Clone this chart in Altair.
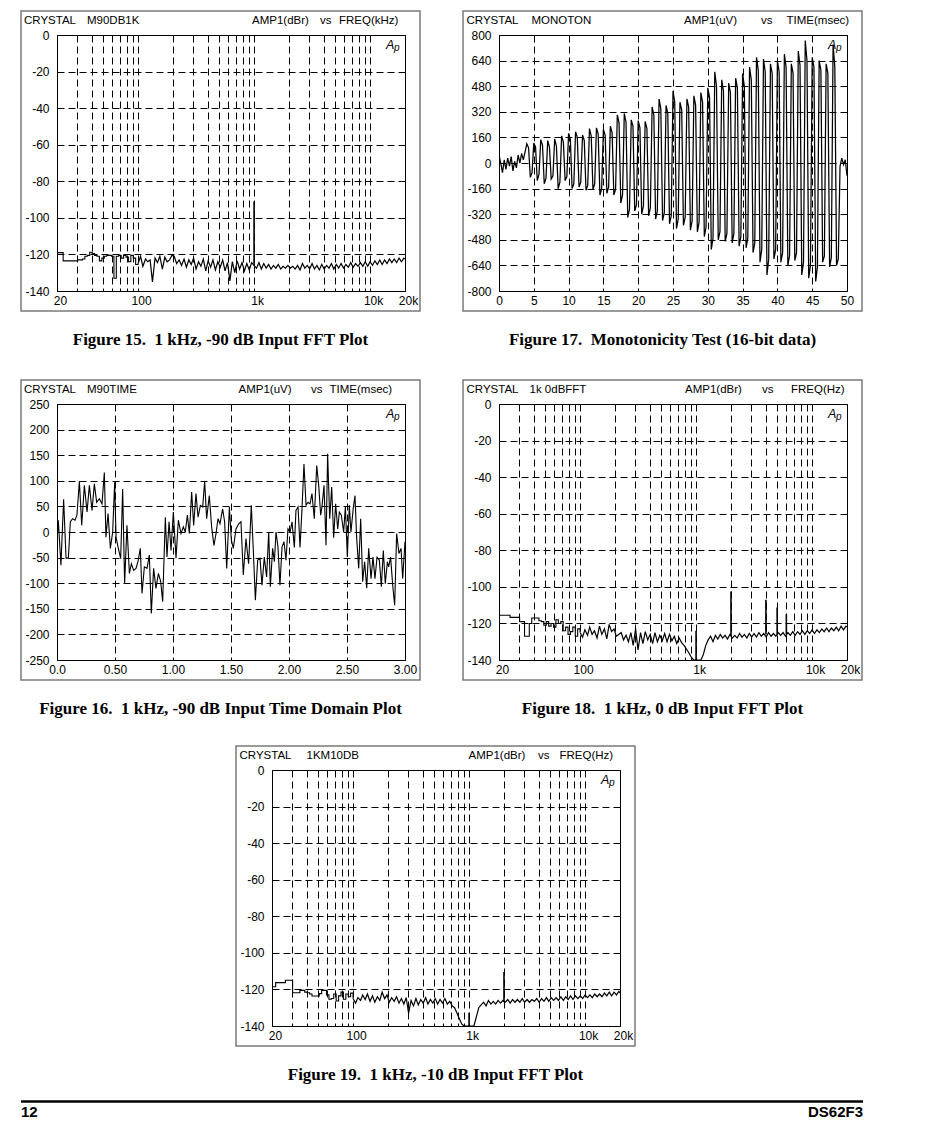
import altair as alt
import pandas as pd

W, H = 348, 256
FONT = "Liberation Sans"

# ---------------- shared FFT frequency grid (Hz) ----------------
FREQ = [20, 21.5, 22.6, 23.7, 24.9, 26.1, 27.4, 28.7, 30.1, 31.6, 33.2, 34.8, 36.5, 38.3, 40.2, 42.2, 44.2,
        46.4, 48.7, 51.1, 53.6, 56.2, 59.0, 61.9, 64.9, 68.1, 71.5, 75.0, 78.7, 82.5, 86.6, 90.9, 95.3,
        100, 105, 110, 116, 121, 127, 133, 140, 147, 154, 162, 170, 178, 187, 196, 205, 215, 226, 237, 249,
        261, 274, 287, 301, 316, 332, 348, 365, 383, 402, 422, 442, 464, 487, 511, 536, 562, 590, 619, 649,
        681, 715, 750, 787, 825, 866, 909, 953,
        1000, 1049, 1101, 1155, 1212, 1271, 1334, 1399, 1468, 1540, 1616, 1695, 1778, 1866, 1957, 2054, 2154,
        2260, 2371, 2488, 2610, 2738, 2873, 3014, 3162, 3318, 3481, 3652, 3831, 4020, 4217, 4424, 4642, 4870,
        5109, 5360, 5623, 5900, 6190, 6494, 6813, 7148, 7499, 7868, 8254, 8660, 9085, 9532,
        10000, 10490, 11010, 11550, 12120, 12710, 13340, 13990, 14680, 15400, 16160, 16950, 17780, 18660,
        19570, 20000]

# Figure 15: 1 kHz, -90 dB input (dBr)
DB15 = [-119, -119, -123.5, -123.5, -123.5, -123.5, -123.5, -123.5, -123, -123, -122.5, -121, -120.5, -118.8,
        -119.5, -120.5, -121, -123.5, -122, -121, -120.5, -120.5, -121, -133, -121, -120.5, -122, -120.5,
        -121.5, -124, -120.5, -122, -125.5,
        -125, -121, -126.5, -122.5, -124, -123, -135, -122, -124.5, -121, -128, -121.5, -124, -123, -120.5,
        -121, -125, -123, -126, -122.5, -127, -123, -125.5, -122, -128, -124, -126.5, -122.5, -129, -123.5,
        -127, -123, -128.5, -124, -127, -123, -129, -124.5, -134.5, -124, -130, -123.5, -128, -124.5, -129,
        -125, -128.5, -124.5,
        -126, -127.5, -124.5, -128, -125, -127.5, -125.5, -128, -126, -127.5, -125.5, -128, -126.5, -127.5,
        -126, -127.5, -126.5, -128, -126, -128.5, -125, -127.5, -126, -128, -125, -128, -126, -128.5, -125.5,
        -128, -126, -127.5, -125, -128, -125.5, -127.5, -125, -127.5, -125.5, -127, -124.5, -127, -125,
        -126.5, -124.5, -126.5, -124, -126.5,
        -124, -126, -123.5, -125.5, -123, -125.5, -123, -125, -122.5, -124.5, -122.5, -124.5, -122, -124,
        -122, -122.5]
SPK15_F = [1000]
SPK15_TOP = [-91]
SPK15_BASE = [-126]

# Figure 18: 1 kHz, 0 dB input (dBr)
DB18 = [-115.5, -115.5, -115.5, -115.5, -116.7, -116.7, -116.7, -116.7, -119, -119, -127, -127, -120, -117,
        -117, -117, -118.5, -119, -121, -119, -121.5, -120, -122, -118, -120, -119, -124, -122, -126, -124.5,
        -122, -127, -123,
        -125, -127.5, -123.5, -126.5, -122, -126, -124, -128, -121.5, -126, -123, -128.5, -120.5, -124.5,
        -123, -127, -126, -125, -129, -126.5, -130, -125, -132, -123, -134.5, -125, -131, -124.5, -129, -126,
        -131, -125, -130, -126.5, -129.5, -125.5, -130, -126, -129.5, -127, -131, -128, -130.5, -132, -134,
        -136, -138.5, -140,
        -140, -140, -140, -137, -132, -129, -127, -130, -126.5, -128.5, -126, -128, -126.5, -128.5, -126,
        -128, -126.5, -128, -125.5, -127.5, -126, -128, -125.5, -127.5, -125.5, -127.5, -125, -127, -125.5,
        -127.5, -125, -127, -125.5, -127, -125, -126.5, -125, -127, -125, -126.5, -124.5, -126.5, -124.5,
        -126, -124, -126, -124, -125.5,
        -123.5, -125.5, -123.5, -125, -123, -124.5, -122.5, -124.5, -122.5, -124, -122, -124, -121.5, -123.5,
        -121.5, -122]
SPK18_F = [1000, 2000, 4000, 5000, 6000]
SPK18_TOP = [-124, -102.5, -107, -111.3, -115]
SPK18_BASE = [-140, -127, -126, -126, -126]

# Figure 19: 1 kHz, -10 dB input (dBr)
DB19 = [-118.5, -116.3, -116.3, -116.3, -116.3, -115, -115, -115, -121.8, -121.8, -121.8, -120.5, -120.5,
        -121.5, -121.8, -122.5, -123.6, -123.6, -123.6, -122.3, -120.5, -120.5, -123, -125.4, -125, -122.5,
        -126.3, -123.5, -121.5, -125.4, -122.5, -124, -122,
        -125, -127.5, -124.5, -126, -123, -125.5, -122.5, -126.5, -123.5, -127, -124, -126, -121.5, -125,
        -123, -127, -124.5, -126.5, -124, -127.5, -125, -128, -124.5, -133, -126, -129, -125, -128.5, -125.5,
        -127.5, -124.5, -128, -125.5, -127.5, -125, -128, -125.5, -127.5, -125, -128, -126.5, -129, -130,
        -133, -136, -139, -140, -140,
        -140, -140, -140, -135, -130, -128.5, -127, -129, -126, -128, -126.5, -128, -126, -127.5, -126, -127,
        -125.5, -127.5, -125.5, -127, -125.5, -127, -125, -127, -125.5, -127, -125.5, -126.5, -125, -127,
        -125, -126.5, -124.5, -126.5, -124.5, -126, -124.5, -126, -124, -126, -124, -125.5, -123.5, -125.5,
        -123.5, -125, -123.5, -125,
        -123, -124.5, -123, -124.5, -122.5, -124, -122.5, -124, -122, -123.5, -121.5, -123.5, -121.5, -123,
        -121, -122]
SPK19_F = [1000, 2000]
SPK19_TOP = [-132.7, -110.5]
SPK19_BASE = [-140, -127]

FFT_X_GRID = [20, 30, 40, 50, 60, 70, 80, 90, 100, 200, 300, 400, 500, 600, 700, 800, 900,
              1000, 2000, 3000, 4000, 5000, 6000, 7000, 8000, 9000, 10000, 20000]
FFT_X_LABELS = [20, 100, 1000, 10000, 20000]
FFT_Y_TICKS = [-140, -120, -100, -80, -60, -40, -20, 0]

# Figure 17: monotonicity test, time (ms) / amplitude (uV)
T17 = [0, 0.25, 0.5, 0.75, 1, 1.25, 1.5, 1.75, 2, 2.25, 2.5, 2.75, 3, 3.25, 3.5, 3.75, 4, 4.25, 4.5, 4.75,
       5, 5.25, 5.5, 5.75, 6, 6.25, 6.5, 6.75, 7, 7.25, 7.5, 7.75, 8, 8.25, 8.5, 8.75, 9, 9.25, 9.5, 9.75,
       10, 10.25, 10.5, 10.75, 11, 11.25, 11.5, 11.75, 12, 12.25, 12.5, 12.75, 13, 13.25, 13.5, 13.75,
       14, 14.25, 14.5, 14.75, 15, 15.25, 15.5, 15.75, 16, 16.25, 16.5, 16.75, 17, 17.25, 17.5, 17.75,
       18, 18.25, 18.5, 18.75, 19, 19.25, 19.5, 19.75, 20, 20.25, 20.5, 20.75, 21, 21.25, 21.5, 21.75,
       22, 22.25, 22.5, 22.75, 23, 23.25, 23.5, 23.75, 24, 24.25, 24.5, 24.75, 25, 25.25, 25.5, 25.75,
       26, 26.25, 26.5, 26.75, 27, 27.25, 27.5, 27.75, 28, 28.25, 28.5, 28.75, 29, 29.25, 29.5, 29.75,
       30, 30.25, 30.5, 30.75, 31, 31.25, 31.5, 31.75, 32, 32.25, 32.5, 32.75, 33, 33.25, 33.5, 33.75,
       34, 34.25, 34.5, 34.75, 35, 35.25, 35.5, 35.75, 36, 36.25, 36.5, 36.75, 37, 37.25, 37.5, 37.75,
       38, 38.25, 38.5, 38.75, 39, 39.25, 39.5, 39.75, 40, 40.25, 40.5, 40.75, 41, 41.25, 41.5, 41.75,
       42, 42.25, 42.5, 42.75, 43, 43.25, 43.5, 43.75, 44, 44.25, 44.5, 44.75, 45, 45.25, 45.5, 45.75,
       46, 46.25, 46.5, 46.75, 47, 47.25, 47.5, 47.75, 48, 48.25, 48.5, 48.75, 49, 49.25, 49.5, 49.75, 50]
V17 = [50, 0, -60, 20, -40, 30, -20, 40, -50, 10, -30, 50, 0, 60, 20, 70,
       120, 95, -90, -60, 125, 100, -110, -70, 145, 110, -130, -95, 140, 100, -100, -80,
       150, 105, -160, -120, 170, 130, -110, -85, 185, 150, -160, -130, 195, 160, -150, -120,
       175, 140, -170, -140, 215, 170, -165, -130, 220, 180, -200, -160, 210, 175, -190, -150,
       230, 190, -200, -165, 300, 250, -250, -200, 310, 255, -340, -290, 270, 230, -300, -260,
       265, 220, -320, -270, 260, 215, -330, -280, 350, 300, -350, -300, 400, 340, -360, -310,
       360, 310, -380, -330, 450, 380, -410, -350, 380, 330, -390, -340, 400, 350, -420, -360,
       420, 360, -430, -370, 440, 380, -460, -400, 470, 410, -540, -470, 570, 480, -480, -430,
       520, 450, -490, -440, 500, 440, -500, -440, 530, 470, -520, -460, 560, 480, -530, -470,
       600, 520, -560, -500, 660, 580, -620, -540, 650, 570, -700, -600, 620, 560, -600, -540,
       640, 570, -620, -560, 680, 600, -640, -580, 620, 560, -610, -560, 700, 610, -700, -620,
       765, 640, -720, -640, 660, 600, -740, -650, 640, 580, -620, -580, 620, 560, -650, -590,
       740, 600, -640, -600, -20, 30, -10, 20, -80]
T17_TICKS = [0, 5, 10, 15, 20, 25, 30, 35, 40, 45, 50]
Y17_TICKS = [-800, -640, -480, -320, -160, 0, 160, 320, 480, 640, 800]

# Figure 16: time domain, time (ms) / amplitude (uV)
T16 = [0.000, 0.011, 0.034, 0.057, 0.078, 0.098, 0.115, 0.135, 0.155, 0.172,
       0.193, 0.213, 0.236, 0.259, 0.279, 0.302, 0.322, 0.342, 0.365, 0.388,
       0.408, 0.422, 0.440, 0.460, 0.480, 0.497, 0.509, 0.526, 0.549, 0.566,
       0.583, 0.603, 0.624, 0.641, 0.661, 0.681, 0.698, 0.718, 0.733, 0.753,
       0.776, 0.796, 0.813, 0.833, 0.853, 0.874, 0.894, 0.911, 0.934, 0.948,
       0.966, 0.983, 1.003, 1.026, 1.046, 1.069, 1.089, 1.106, 1.124, 1.141,
       1.161, 1.178, 1.198, 1.216, 1.236, 1.256, 1.273, 1.290, 1.313, 1.333,
       1.353, 1.371, 1.388, 1.405, 1.428, 1.445, 1.463, 1.486, 1.503, 1.520,
       1.543, 1.566, 1.586, 1.606, 1.629, 1.652, 1.675, 1.693, 1.710, 1.730,
       1.750, 1.767, 1.787, 1.807, 1.825, 1.839, 1.859, 1.874, 1.888, 1.905,
       1.922, 1.940, 1.957, 1.974, 1.991, 2.009, 2.026, 2.046, 2.060, 2.078,
       2.095, 2.112, 2.129, 2.147, 2.164, 2.181, 2.198, 2.218, 2.239, 2.256,
       2.273, 2.284, 2.302, 2.319, 2.333, 2.351, 2.368, 2.385, 2.402, 2.420,
       2.434, 2.451, 2.471, 2.486, 2.503, 2.520, 2.534, 2.555, 2.569, 2.583,
       2.601, 2.618, 2.635, 2.652, 2.670, 2.687, 2.707, 2.724, 2.741, 2.759,
       2.779, 2.796, 2.813, 2.830, 2.848, 2.859, 2.876, 2.894, 2.911, 2.928,
       2.948, 2.966, 2.980, 3.000]
V16 = [-19, 23, -65, 64, -51, -51, 20, 26, 23, 33,
       99, 13, 91, 39, 91, 42, 94, 58, 65, 55,
       116, -10, 36, -32, 0, 97, -10, -29, -52, 84,
       -101, 13, -81, -62, -75, -71, -58, -32, -120, -68,
       -71, -45, -159, -71, -110, -81, -97, -136, 29, -49,
       20, -36, 39, -51, 23, -3, 10, 0, 33, -3,
       78, 13, 75, 29, 52, 49, 99, 26, 71, 10,
       -26, -3, 26, 16, 45, 20, -71, 49, -16, -32,
       6, 16, 20, -84, -13, -62, 52, -39, -133, -55,
       -51, -104, -49, -88, 0, -107, -32, -58, 0, -29,
       -104, -29, -19, -55, 6, 0, 20, -30, 42, 49,
       -30, 45, 133, 52, 58, 55, 75, 26, 130, 91,
       33, 49, 91, -26, 153, 26, 88, -11, 55, 6,
       39, 33, 0, 49, -49, 52, 0, 49, 71, -11,
       -71, 26, -97, -58, -110, -32, -91, -49, -91, -49,
       -55, -107, -36, -101, -58, -68, -49, -104, -143, -3,
       -42, -32, -91, -19]
T16_TICKS = [0, 0.5, 1.0, 1.5, 2.0, 2.5, 3.0]
Y16_TICKS = [-250, -200, -150, -100, -50, 0, 50, 100, 150, 200, 250]

# ---------------- helpers ----------------
ONE = alt.InlineData(values=[{"k": 0}])
NOVIEW = alt.ViewBackground(stroke="transparent")
NB = "\u00a0"
Y_LABEL_EXPR = "'' + datum.value"


def vtext(x, y, s, size=11.5, align="left", font=FONT, weight="normal", style="normal"):
    return alt.Chart(ONE).mark_text(
        align=align, baseline="middle", font=font, fontSize=size,
        fontWeight=weight, fontStyle=style, color="black"
    ).encode(x=alt.value(x), y=alt.value(y), text=alt.value(s))


def frame(header, caption, cell_bottom=86):
    cell = alt.Chart(ONE).mark_rect(opacity=0).encode(
        x=alt.value(-37), x2=alt.value(W + 16), y=alt.value(-25), y2=alt.value(H + cell_bottom))
    box = alt.Chart(ONE).mark_rect(filled=False, color="#7a7a7a", strokeWidth=1.5).encode(
        x=alt.value(-36), x2=alt.value(W + 15), y=alt.value(-24), y2=alt.value(H + 20))
    top = [vtext(x, -14, s) for x, s in header]
    logo = [vtext(W - 19, 10, "A", size=12.5, style="italic"),
            vtext(W - 11, 12.5, "p", size=10, style="italic")]
    cap = vtext(W / 2 - 10.5, H + 49, caption, size=17, align="center",
                font="Liberation Serif", weight="bold")
    return [cell, box], top + logo + [cap]


lab_list = ",".join(str(v) for v in FFT_X_LABELS)
FFT_LABEL_EXPR = ("indexof([" + lab_list + "], datum.value) < 0 ? '' : "
                  "(datum.value >= 1000 ? (datum.value / 1000) + 'k' : '' + datum.value)")


def fft_panel(db, spk_f, spk_top, spk_base, header, caption, cell_bottom=86):
    df = pd.DataFrame({"f": FREQ, "db": db})
    sdf = pd.DataFrame({"f": spk_f, "top": spk_top, "base": spk_base})
    xs = alt.Scale(type="log", domain=[20, 20000], nice=False)
    ys = alt.Scale(domain=[-140, 0], nice=False)
    xa = alt.Axis(values=FFT_X_GRID, labelExpr=FFT_LABEL_EXPR, labelOverlap=False,
                  labelFlush=False, labelOffset=3, title=None, grid=True)
    ya = alt.Axis(values=FFT_Y_TICKS, title=None, grid=True, labelOverlap=False,
                  labelExpr=Y_LABEL_EXPR)
    X = alt.X("f:Q", scale=xs, axis=xa)
    low = alt.Chart(df).transform_filter(alt.datum.f <= 100).mark_line(
        color="black", strokeWidth=1.1, interpolate="step-after", clip=True
    ).encode(x=X, y=alt.Y("db:Q", scale=ys, axis=ya))
    high = alt.Chart(df).transform_filter(alt.datum.f >= 100).mark_line(
        color="black", strokeWidth=1.2, clip=True
    ).encode(x=X, y=alt.Y("db:Q", scale=ys, axis=ya))
    spikes = alt.Chart(sdf).mark_rule(color="black", strokeWidth=1.6, clip=True).encode(
        x=X, y=alt.Y("top:Q", scale=ys, axis=ya), y2="base:Q")
    back, front = frame(header, caption, cell_bottom)
    return alt.layer(*back, low, high, spikes, *front).properties(width=W, height=H)


def time_panel(t, v, xt, yt, xdom, ydom, xexpr, header, caption, cell_bottom=86, sw=1.1):
    df = pd.DataFrame({"t": t, "v": v})
    if xexpr:
        xa = alt.Axis(values=xt, title=None, grid=True, labelFlush=False, labelOverlap=False,
                      labelExpr=xexpr)
    else:
        xa = alt.Axis(values=xt, title=None, grid=True, labelFlush=False, labelOverlap=False)
    ya = alt.Axis(values=yt, title=None, grid=True, labelOverlap=False, labelExpr=Y_LABEL_EXPR)
    line = alt.Chart(df).mark_line(color="black", strokeWidth=sw, clip=True).encode(
        x=alt.X("t:Q", scale=alt.Scale(domain=xdom, nice=False), axis=xa),
        y=alt.Y("v:Q", scale=alt.Scale(domain=ydom, nice=False), axis=ya))
    back, front = frame(header, caption, cell_bottom)
    return alt.layer(*back, line, *front).properties(width=W, height=H)


# ---------------- panels ----------------
p15 = fft_panel(DB15, SPK15_F, SPK15_TOP, SPK15_BASE,
                [(-33, "CRYSTAL"), (30, "M90DB1K"), (195, "AMP1(dBr)"), (263, "vs"), (282, "FREQ(kHz)")],
                "Figure 15." + NB + " 1 kHz, -90 dB Input FFT Plot")

p17 = time_panel(T17, V17, T17_TICKS, Y17_TICKS, [0, 50], [-800, 800], None,
                 [(-32.5, "CRYSTAL"), (32.5, "MONOTON"), (185, "AMP1(uV)"), (262, "vs"),
                  (287.5, "TIME(msec)")],
                 "Figure 17." + NB + " Monotonicity Test (16-bit data)", sw=1.25)

p16 = time_panel(T16, V16, T16_TICKS, Y16_TICKS, [0, 3], [-250, 250],
                 "datum.value == 0 ? '0.0' : format(datum.value, '.2f')",
                 [(-33, "CRYSTAL"), (30, "M90TIME"), (181.5, "AMP1(uV)"), (254, "vs"),
                  (272.5, "TIME(msec)")],
                 "Figure 16." + NB + " 1 kHz, -90 dB Input Time Domain Plot", cell_bottom=83)

p18 = fft_panel(DB18, SPK18_F, SPK18_TOP, SPK18_BASE,
                [(-32.5, "CRYSTAL"), (30.5, "1k 0dBFFT"), (186, "AMP1(dBr)"), (263, "vs"), (292, "FREQ(Hz)")],
                "Figure 18." + NB + " 1 kHz, 0 dB Input FFT Plot", cell_bottom=83)

p19 = fft_panel(DB19, SPK19_F, SPK19_TOP, SPK19_BASE,
                [(-32.5, "CRYSTAL"), (34.5, "1KM10DB"), (196.5, "AMP1(dBr)"), (266, "vs"), (287.5, "FREQ(Hz)")],
                "Figure 19." + NB + " 1 kHz, -10 dB Input FFT Plot", cell_bottom=72)

# invisible spacer that pushes Figure 19 to the page centre
spacer = alt.Chart(ONE).mark_rect(opacity=0).encode(
    x=alt.value(0), x2=alt.value(176), y=alt.value(0), y2=alt.value(1)
).properties(width=176, height=1, view=NOVIEW)

# page footer
footer = alt.layer(
    alt.Chart(ONE).mark_rect(opacity=0).encode(
        x=alt.value(-36), x2=alt.value(10), y=alt.value(0), y2=alt.value(24)),
    alt.Chart(ONE).mark_rule(color="black", strokeWidth=2.5).encode(
        x=alt.value(-36), x2=alt.value(806), y=alt.value(1.5)),
    vtext(-36, 12, "12", size=15, weight="bold", font="Liberation Sans Narrow, Liberation Sans"),
    vtext(806, 12, "DS62F3", size=15, align="right", weight="bold",
          font="Liberation Sans Narrow, Liberation Sans"),
).properties(width=10, height=10, view=NOVIEW)

row1 = alt.hconcat(p15, p17, spacing=39)
row2 = alt.hconcat(p16, p18, spacing=39)
row3 = alt.hconcat(spacer, p19, spacing=0)

chart = alt.vconcat(row1, row2, row3, footer, spacing=0).properties(
    padding={"left": 11, "top": 1, "right": 5, "bottom": 5}
).configure_view(
    stroke="black", strokeWidth=1
).configure_axis(
    labelFont=FONT, labelFontSize=12, labelColor="black", ticks=False, tickSize=0,
    domain=False, gridColor="black", gridDash=[7, 4], gridWidth=1, gridOpacity=1
).configure_axisX(
    labelPadding=4
).configure_axisY(
    labelPadding=8
)

chart.save("out.html", embed_options={"renderer": "svg", "actions": False})
